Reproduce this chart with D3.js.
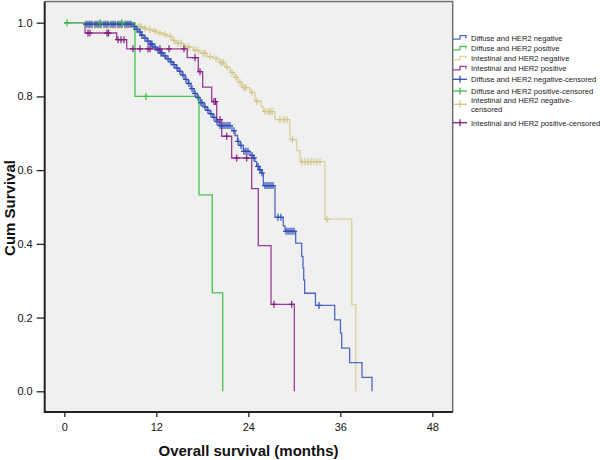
<!DOCTYPE html>
<html><head><meta charset="utf-8">
<script src="https://cdn.jsdelivr.net/npm/d3@7/dist/d3.min.js"></script>
<style>
html,body{margin:0;padding:0;background:#fff;}
svg{display:block;font-family:"Liberation Sans",Arial,sans-serif;}
</style></head>
<body>
<svg id="chart" width="600" height="460"></svg>
<script>
// ---------- DATA ----------
const xTicks = [0, 12, 24, 36, 48];
const yTicks = [0.0, 0.2, 0.4, 0.6, 0.8, 1.0];
const xTitle = "Overall survival (months)";
const yTitle = "Cum Survival";

const legendLabels = [
  ["Diffuse and HER2 negative"],
  ["Diffuse and HER2 positive"],
  ["Intestinal and HER2 negative"],
  ["Intestinal and HER2 positive"],
  ["Diffuse and HER2 negative-censored"],
  ["Diffuse and HER2 positive-censored"],
  ["Intestinal and HER2 negative-", "censored"],
  ["Intestinal and HER2 positive-censored"]
];

// Diffuse and HER2 negative
const diffNegEventT = [2.7, 8.96, 9.29, 9.61, 10.0, 10.39, 10.79, 11.18, 11.57, 11.96, 12.48, 12.88, 13.27, 13.79, 14.18, 14.57, 14.96, 15.35, 15.74, 16.14, 16.53, 16.92, 17.31, 17.70, 18.22, 18.61, 19.0, 19.39, 19.79, 20.18, 21.87, 22.26, 22.59, 22.92, 23.35, 24.22, 24.65, 24.87, 25.09, 25.40, 25.75, 25.96, 27.48, 28.56, 28.79, 30.18, 30.96, 31.13, 31.23, 31.35, 32.76, 35.27, 36.02, 36.18, 37.22, 38.83, 40.13];
const diffNegEventS = [0.996, 0.990, 0.982, 0.975, 0.966, 0.958, 0.950, 0.942, 0.934, 0.926, 0.918, 0.910, 0.902, 0.894, 0.886, 0.877, 0.868, 0.858, 0.846, 0.835, 0.821, 0.808, 0.797, 0.783, 0.772, 0.762, 0.753, 0.743, 0.732, 0.721, 0.707, 0.694, 0.678, 0.667, 0.651, 0.640, 0.633, 0.623, 0.610, 0.601, 0.592, 0.558, 0.472, 0.449, 0.434, 0.402, 0.366, 0.335, 0.302, 0.266, 0.233, 0.194, 0.158, 0.117, 0.078, 0.038, 0.0];
const diffNegCensT = [2.83, 3.09, 3.35, 3.61, 4.00, 4.27, 4.53, 4.79, 5.18, 5.44, 5.70, 6.09, 6.35, 6.61, 7.00, 7.27, 7.53, 7.92, 8.18, 8.44, 8.70, 9.09, 9.48, 9.87, 10.13, 10.53, 10.92, 11.31, 11.44, 11.83, 12.22, 12.61, 12.74, 13.13, 13.53, 13.92, 14.31, 14.70, 15.09, 15.48, 15.87, 16.26, 16.66, 17.05, 17.44, 17.83, 17.96, 18.35, 18.74, 19.13, 19.53, 19.92, 20.31, 20.57, 20.83, 21.09, 21.35, 21.61, 22.13, 22.66, 23.05, 23.44, 23.70, 23.96, 24.48, 24.74, 25.27, 25.53, 25.79, 26.18, 26.44, 26.70, 26.96, 27.22, 27.87, 28.26, 28.92, 29.18, 29.44, 29.70, 29.96, 33.22];

// Diffuse and HER2 positive
const diffPosEventT = [9.22, 17.57, 19.30, 20.66];
const diffPosEventS = [0.8, 0.533, 0.267, 0.0];
const diffPosCensT = [0.35, 4.66, 7.53, 10.66];

// Intestinal and HER2 negative
const intNegEventT = [2.7, 9.48, 10.27, 10.79, 11.57, 12.09, 12.88, 13.40, 14.05, 14.57, 15.61, 16.79, 17.70, 18.61, 19.39, 20.18, 20.96, 21.61, 22.13, 22.66, 23.18, 24.22, 24.87, 25.66, 25.92, 27.48, 29.43, 30.29, 30.74, 34.00, 37.49, 38.01];
const intNegEventS = [0.993, 0.989, 0.985, 0.981, 0.977, 0.972, 0.968, 0.963, 0.952, 0.944, 0.934, 0.925, 0.917, 0.908, 0.903, 0.892, 0.879, 0.865, 0.852, 0.838, 0.824, 0.811, 0.787, 0.773, 0.759, 0.737, 0.683, 0.653, 0.623, 0.467, 0.235, 0.0];
const intNegCensT = [2.83, 3.22, 3.61, 4.00, 4.39, 4.78, 5.17, 5.56, 5.96, 6.35, 6.74, 7.13, 7.52, 7.91, 8.30, 8.70, 9.74, 10.0, 10.53, 11.18, 11.83, 12.48, 13.13, 13.79, 14.31, 14.83, 15.22, 15.87, 16.26, 17.05, 17.44, 18.09, 18.35, 19.0, 19.79, 20.44, 20.70, 21.22, 21.87, 22.39, 22.92, 23.44, 23.70, 24.48, 25.13, 26.17, 26.57, 26.83, 27.09, 28.13, 28.66, 29.05, 29.76, 30.99, 31.39, 31.78, 32.18, 32.57, 32.96, 33.35, 34.26];

// Intestinal and HER2 positive
const intPosEventT = [2.70, 6.83, 8.14, 16.04, 17.48, 18.05, 19.23, 19.88, 20.53, 21.83, 24.44, 25.30, 26.96, 30.00];
const intPosEventS = [0.972, 0.954, 0.929, 0.905, 0.867, 0.825, 0.786, 0.737, 0.692, 0.633, 0.550, 0.395, 0.236, 0.0];
const intPosCensT = [3.09, 3.35, 5.57, 5.77, 7.00, 7.40, 7.79, 8.96, 9.87, 10.92, 11.18, 12.48, 13.66, 15.61, 17.05, 17.70, 19.52, 19.72, 20.31, 21.18, 22.49, 23.79, 27.35, 29.66];

// ---------- LAYOUT / STYLE ----------
const lineColors = ["#5068c4", "#46c44e", "#d9d29c", "#9a3c96"];
const censColors = ["#2f4db4", "#3cbc46", "#d0c68a", "#7e1f7c"];

const series = [
  {t: diffNegEventT, s: diffNegEventS, c: diffNegCensT},
  {t: diffPosEventT, s: diffPosEventS, c: diffPosCensT},
  {t: intNegEventT, s: intNegEventS, c: intNegCensT},
  {t: intPosEventT, s: intPosEventS, c: intPosCensT}
];

const svg = d3.select("#chart");
const frame = {left: 44.7, right: 452.7, top: 1.5, bottom: 412};
const x = d3.scaleLinear().domain([0, 48]).range([64.3, 432.3]);
const y = d3.scaleLinear().domain([0, 1]).range([391.3, 22.7]);

// plot background
svg.append("rect").attr("x", frame.left).attr("y", frame.top)
  .attr("width", frame.right - frame.left).attr("height", frame.bottom - frame.top)
  .attr("fill", "#f0f0f0");
// top/right border
svg.append("path")
  .attr("d", `M${frame.left},${frame.top}H${frame.right}V${frame.bottom}`)
  .attr("fill", "none").attr("stroke", "#707070").attr("stroke-width", 1.5);

// axes
const yAxis = d3.axisLeft(y).tickValues(yTicks).tickFormat(d3.format(".1f")).tickSizeInner(8).tickSizeOuter(0).tickPadding(4);
const gy = svg.append("g").attr("transform", `translate(${frame.left},0)`).call(yAxis);
gy.select(".domain").remove();
const xAxis = d3.axisBottom(x).tickValues(xTicks).tickFormat(d3.format("d")).tickSizeInner(5).tickSizeOuter(0).tickPadding(6);
const gx = svg.append("g").attr("transform", `translate(0,${frame.bottom})`).call(xAxis);
gx.select(".domain").remove();
[gx, gy].forEach(g => {
  g.selectAll("text").attr("font-size", 11).attr("fill", "#111").attr("font-family", "'Liberation Sans',Arial,sans-serif");
  g.selectAll("line").attr("stroke", "#222").attr("stroke-width", 1.3);
});
// left/bottom border
svg.append("path")
  .attr("d", `M${frame.left},${frame.top}V${frame.bottom}H${frame.right}`)
  .attr("fill", "none").attr("stroke", "#222").attr("stroke-width", 2);

// survival curves
function stepPath(sr) {
  const pts = [[0, 1]];
  let prev = 1;
  sr.t.forEach((t, i) => { pts.push([t, prev]); pts.push([t, sr.s[i]]); prev = sr.s[i]; });
  return d3.line().x(d => x(d[0])).y(d => y(d[1]))(pts);
}
function survAt(sr, t) {
  let v = 1;
  sr.t.forEach((tt, i) => { if (tt <= t) v = sr.s[i]; });
  return v;
}
const drawOrder = [2, 0, 3, 1];
drawOrder.forEach(k => {
  const sr = series[k];
  svg.append("path").attr("d", stepPath(sr)).attr("fill", "none")
    .attr("stroke", lineColors[k]).attr("stroke-width", 1.3);
});
drawOrder.forEach(k => {
  const sr = series[k];
  const g = svg.append("g").attr("stroke", censColors[k]).attr("stroke-width", 1.2);
  sr.c.forEach(t => {
    const cx = x(t), cy = y(survAt(sr, t));
    g.append("line").attr("x1", cx).attr("x2", cx).attr("y1", cy - 3.5).attr("y2", cy + 3.5);
    g.append("line").attr("x1", cx - 3).attr("x2", cx + 3).attr("y1", cy).attr("y2", cy);
  });
});

// axis titles
svg.append("text").attr("x", 248.5).attr("y", 455.5).attr("text-anchor", "middle")
  .attr("font-size", 15).attr("font-weight", "bold").attr("fill", "#111").text(xTitle);
svg.append("text").attr("transform", "translate(14.5,208) rotate(-90)").attr("text-anchor", "middle")
  .attr("font-size", 15).attr("font-weight", "bold").attr("fill", "#111").text(yTitle);

// legend
const legY = [37.7, 48.3, 58.3, 68.3, 79.3, 91, 104.3, 122.7];
const lg = svg.append("g");
legendLabels.forEach((lines, i) => {
  const cy = legY[i];
  const k = i % 4;
  if (i < 4) {
    lg.append("path").attr("d", `M453,${cy + 1.5}H460V${cy - 2}H466V${cy + 0.5}`)
      .attr("fill", "none").attr("stroke", lineColors[k]).attr("stroke-width", 1.3);
  } else {
    lg.append("line").attr("x1", 453).attr("x2", 467).attr("y1", cy).attr("y2", cy)
      .attr("stroke", censColors[k]).attr("stroke-width", 1.3);
    lg.append("line").attr("x1", 460).attr("x2", 460).attr("y1", cy - 3.5).attr("y2", cy + 3.5)
      .attr("stroke", censColors[k]).attr("stroke-width", 1.3);
  }
  const n = lines.length;
  lines.forEach((ln, j) => {
    lg.append("text").attr("x", 471).attr("y", cy + 2.8 + (j - (n - 1) / 2) * 8.8)
      .attr("font-size", 7.6).attr("fill", "#222").text(ln);
  });
});
</script>
</body></html>
